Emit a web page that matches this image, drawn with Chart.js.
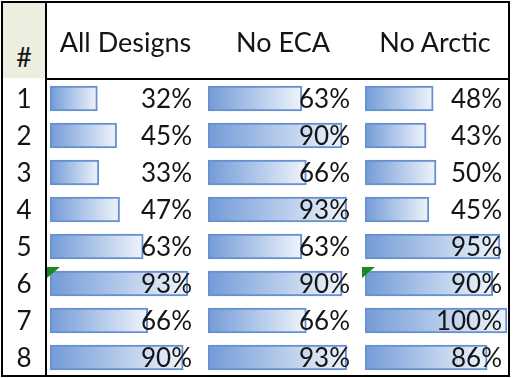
<!DOCTYPE html>
<html>
<head>
<meta charset="utf-8">
<script src="https://cdn.jsdelivr.net/npm/chart.js@4"></script>
<style>
  html, body { margin: 0; padding: 0; background: #fff; }
  #sheet { position: relative; width: 513px; height: 378px; overflow: hidden; font-family: Lato, "Open Sans", sans-serif; color: #151515; }
  .frame { position: absolute; left: 1px; top: 1px; width: 505px; height: 372px; border: 2.5px solid #000; }
  .hashCell { position: absolute; left: 3px; top: 3px; width: 42px; height: 75px; background: #eceedf; }
  .vline { position: absolute; left: 45px; top: 3px; width: 2px; height: 373px; background: #000; }
  .hline { position: absolute; left: 47px; top: 78px; width: 461px; height: 2px; background: #000; }
  .head { position: absolute; top: 25px; font-size: 27px; text-align: center; white-space: nowrap; }
  .hash { position: absolute; left: 3px; width: 42px; top: 40px; font-size: 27px; text-align: center; }
  .rownum { position: absolute; left: 3px; width: 42px; font-size: 26px; text-align: center; line-height: 37px; }
  canvas { position: absolute; }
  .flag { position: absolute; width: 0; height: 0; border-top: 11px solid #1a8a1a; border-right: 13px solid transparent; }
</style>
</head>
<body>
<div id="sheet">
  <div class="hashCell"></div>
  <div class="hash">#</div>
  <div class="vline"></div>
  <div class="hline"></div>
  <div class="frame"></div>
</div>
<script>
const rows = ['1', '2', '3', '4', '5', '6', '7', '8'];
const headers = ['All Designs', 'No ECA', 'No Arctic'];
const allDesigns = [32, 45, 33, 47, 63, 93, 66, 90];
const noECA = [63, 90, 66, 93, 63, 90, 66, 93];
const noArctic = [48, 43, 50, 45, 95, 90, 100, 86];
// cells carrying the little green corner marker: [column, row]
const flagged = [[0, 5], [2, 5]];

const seriesList = [allDesigns, noECA, noArctic];

// column geometry: cell span, where the bar starts and how long a 100% bar is
const columns = [
  { cellLeft: 47, cellWidth: 157, barLeft: 50, fullLen: 148, textRight: 142 },
  { cellLeft: 204, cellWidth: 158, barLeft: 208, fullLen: 149, textRight: 142 },
  { cellLeft: 362, cellWidth: 146, barLeft: 365, fullLen: 142, textRight: 137 }
];
const bodyTop = 80;
const bodyHeight = 296;

const sheet = document.getElementById('sheet');

headers.forEach((h, i) => {
  const col = columns[i];
  const el = document.createElement('div');
  el.className = 'head';
  el.style.left = col.cellLeft + 'px';
  el.style.width = col.cellWidth + 'px';
  el.textContent = h;
  sheet.appendChild(el);
});

rows.forEach((r, i) => {
  const el = document.createElement('div');
  el.className = 'rownum';
  el.style.top = (bodyTop + i * bodyHeight / rows.length) + 'px';
  el.textContent = r;
  sheet.appendChild(el);
});

// gradient fill: solid blue at the bar's start, fading to near white at its end
function barGradient(context) {
  const chart = context.chart;
  if (!chart.chartArea) return '#8fb0e0';
  const xs = chart.scales.x;
  const v = context.raw;
  const x0 = xs.getPixelForValue(0);
  const x1 = xs.getPixelForValue(v);
  const g = chart.ctx.createLinearGradient(x0, 0, Math.max(x1, x0 + 1), 0);
  g.addColorStop(0, '#739bd7');
  g.addColorStop(1, '#eff4fb');
  return g;
}

// percent labels, right aligned in the cell and painted over the bars
const valueLabels = {
  id: 'valueLabels',
  afterDatasetsDraw(chart, args, opts) {
    const { ctx } = chart;
    const ys = chart.scales.y;
    const xs = chart.scales.x;
    const data = chart.data.datasets[0].data;
    ctx.save();
    ctx.font = '26px Lato, "Open Sans", sans-serif';
    ctx.fillStyle = '#151515';
    ctx.textAlign = 'right';
    ctx.textBaseline = 'middle';
    data.forEach((v, i) => {
      ctx.fillText(v + '%', xs.getPixelForValue(0) + opts.right, ys.getPixelForValue(i) + 1);
    });
    ctx.restore();
  }
};

seriesList.forEach((values, ci) => {
  const col = columns[ci];
  const canvas = document.createElement('canvas');
  const w = col.fullLen + 6;
  canvas.style.left = col.barLeft + 'px';
  canvas.style.top = bodyTop + 'px';
  canvas.style.width = w + 'px';
  canvas.style.height = bodyHeight + 'px';
  canvas.width = w;
  canvas.height = bodyHeight;
  sheet.insertBefore(canvas, sheet.querySelector('.frame'));

  new Chart(canvas.getContext('2d'), {
    type: 'bar',
    data: {
      labels: rows,
      datasets: [{
        data: values,
        backgroundColor: barGradient,
        borderColor: '#6690d0',
        borderWidth: 2,
        borderSkipped: false,
        barThickness: 25
      }]
    },
    options: {
      indexAxis: 'y',
      responsive: false,
      animation: false,
      layout: { padding: { left: 0, right: 6, top: 0, bottom: 0 } },
      scales: {
        x: { display: false, min: 0, max: 100 },
        y: { display: false, offset: true }
      },
      plugins: {
        legend: { display: false },
        tooltip: { enabled: false },
        valueLabels: { right: col.textRight }
      }
    },
    plugins: [valueLabels]
  });
});

flagged.forEach(([ci, ri]) => {
  const el = document.createElement('div');
  el.className = 'flag';
  el.style.left = (columns[ci].cellLeft) + 'px';
  el.style.top = (bodyTop + ri * bodyHeight / rows.length + 2) + 'px';
  sheet.appendChild(el);
});
</script>
</body>
</html>
